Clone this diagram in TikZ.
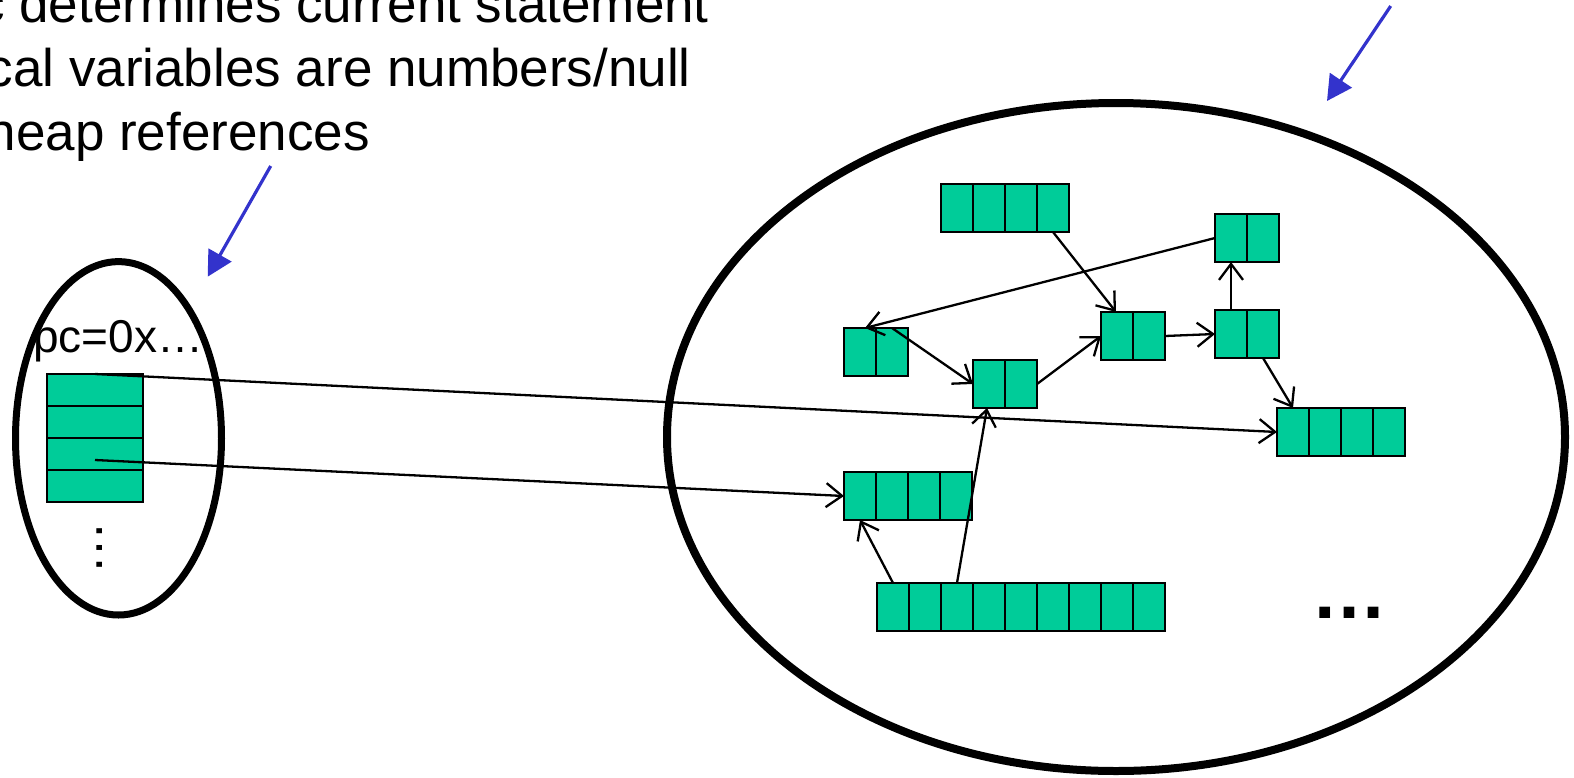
\documentclass[tikz,border=0pt]{standalone}
\usepackage{fontspec}
\setmainfont{Liberation Sans}
\usetikzlibrary{arrows.meta}
\definecolor{cellgreen}{RGB}{0,204,153}
\definecolor{pointblue}{RGB}{51,51,204}
\tikzset{
  cellbox/.style={draw, fill=cellgreen, line width=2.4pt, minimum height=48pt,
    inner sep=0pt, outer sep=0pt, anchor=north west},
  divider/.style={line width=2.4pt},
  ref/.style={line width=2.3pt, -{Straight Barb[length=16pt,width=24pt]}},
  pointer/.style={line width=3.2pt, pointblue, -{Triangle[length=25pt,width=26pt]}},
  region/.style={line width=7pt},
  bigtext/.style={font=\fontsize{53pt}{64pt}\selectfont, inner sep=0pt},
}
\newcommand\cellrow[4]{%
  \node[cellbox, minimum width={#4*32pt}] (#1) at (#2,#3) {};
  \foreach \k in {2,...,#4}
    \draw[divider] ([xshift={(\k-1)*32pt}]#1.north west) -- ([xshift={(\k-1)*32pt}]#1.south west);
}
\begin{document}
\begin{tikzpicture}[x=1pt,y=-1pt]
\path[use as bounding box] (0,0) rectangle (1574,777);
\clip (0,0) rectangle (1574,777);

% texts
\node[bigtext, anchor=base east] (t1) at (709,22) {pc determines current statement};
\node[bigtext, anchor=base east] (t2) at (691,86) {local variables are numbers/null};
\node[bigtext, anchor=base east] (t3) at (370,150) {or heap references};

% regions
\draw[region] (118.5,438.3) ellipse [x radius=103, y radius=176.7];
\draw[region, line width=8pt] (1116,437) ellipse [x radius=449, y radius=334];

% stack frame
\node[font=\fontsize{46pt}{55pt}\selectfont, inner sep=0pt, anchor=base west] (pc) at (33,352) {pc=0x…};
\node[cellbox, minimum width=96pt, minimum height=128pt] (stack) at (47,374) {};
\foreach \k in {1,2,3}
  \draw[divider] ([yshift={-\k*32pt}]stack.north west) -- ([yshift={-\k*32pt}]stack.north east);
\node[bigtext, rotate=90] (vdots) at (100,548) {…};

% heap objects
\cellrow{A}{941}{184}{4}
\cellrow{B}{844}{328}{2}
\cellrow{C}{973}{360}{2}
\cellrow{D}{1101}{312}{2}
\cellrow{E}{1215}{310}{2}
\cellrow{F}{1215}{214}{2}
\cellrow{G}{1277}{408}{4}
\cellrow{H}{844}{472}{4}
\cellrow{I}{877}{583}{9}
\node[font=\fontsize{76pt}{90pt}\selectfont\bfseries, inner sep=0pt] (more) at (1349,613) {…};

% references
\coordinate (s1) at (95,374);
\coordinate (s3) at (95,460);
\draw[ref] (s1) -- (G.west);
\draw[ref] (s3) -- (H.west);
\draw[ref] ([xshift=-16pt]A.south east) -- ([xshift=15pt]D.north west);
\draw[ref] (F.west) -- ([xshift=21pt]B.north west);
\draw[ref] ([xshift=48pt]B.north west) -- (C.west);
\draw[ref] (C.east) -- (D.west);
\draw[ref] (D.east) -- (E.west);
\draw[ref] ([xshift=16pt]E.north west) -- ([xshift=16pt]F.south west);
\draw[ref] ([xshift=-16pt]E.south east) -- ([xshift=16pt]G.north west);
\draw[ref] ([xshift=16pt]I.north west) -- ([xshift=16pt]H.south west);
\draw[ref] ([xshift=80pt]I.north west) -- ([xshift=14pt]C.south west);

% pointers
\coordinate (p1s) at (270.7,166);
\coordinate (p1e) at (207.7,276.7);
\coordinate (p2s) at (1390.7,6);
\coordinate (p2e) at (1327,101);
\draw[pointer] (p1s) -- (p1e);
\draw[pointer] (p2s) -- (p2e);
\end{tikzpicture}
\end{document}
